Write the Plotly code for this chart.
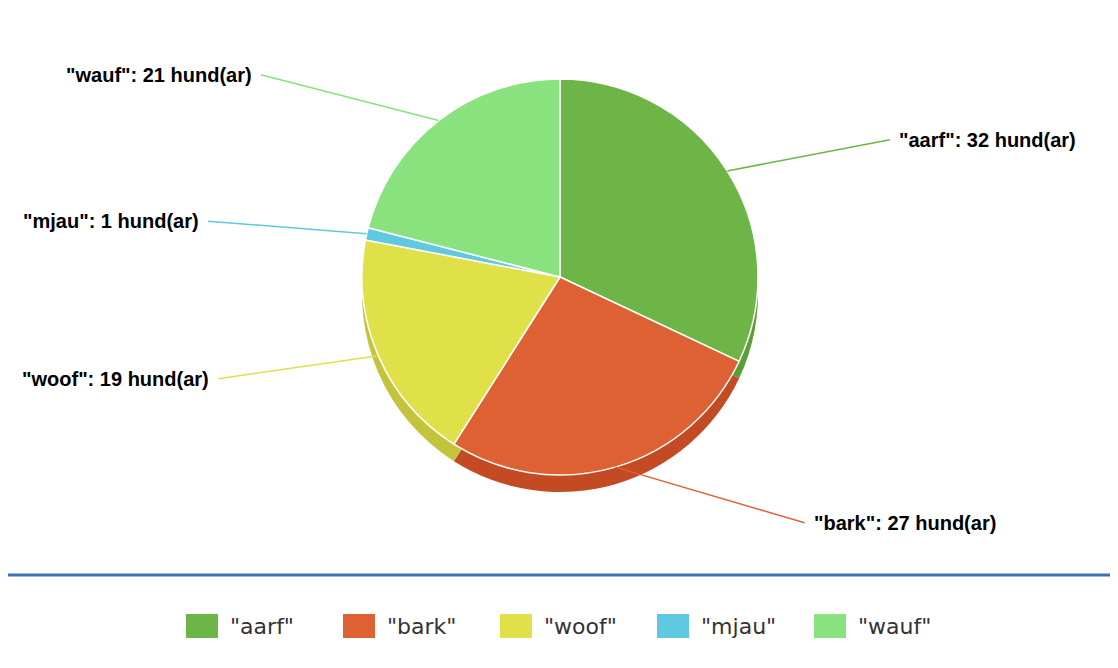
import numpy as np
import plotly.graph_objects as go

labels = ['"aarf"', '"bark"', '"woof"', '"mjau"', '"wauf"']
values = [32, 27, 19, 1, 21]
unit = "hund(ar)"
colors = ["#6cb546", "#de6133", "#e0e049", "#5fc9e0", "#89e27e"]
side_colors = ["#5b9e37", "#c34a22", "#c3c43c", "#4aaac2", "#6fc464"]

# figure sits 8px into the page (body margin), so size it to fit the window
W, H = 1110, 660
cx, cy, r = 552, 269, 198      # pie centre / radius in figure pixels
depth = 17                      # fake 3d depth
lx, ly = 327, 256               # ring where the labels sit

def py(v):
    return 1 - v / H

fig = go.Figure()

# darker copy a bit lower -> side of the 3d pie
fig.add_trace(go.Pie(
    labels=labels, values=values, sort=False, direction="clockwise",
    marker=dict(colors=side_colors, line=dict(color="white", width=0)),
    textinfo="none", hoverinfo="skip", showlegend=False,
    domain=dict(x=[0, 2 * cx / W], y=[py(cy + r + depth), py(cy - r + depth)]),
))

fig.add_trace(go.Pie(
    labels=labels, values=values, sort=False, direction="clockwise",
    marker=dict(colors=colors, line=dict(color="white", width=1.5)),
    textinfo="none", showlegend=False,
    hovertemplate="%{label}: %{value} " + unit + "<extra></extra>",
    domain=dict(x=[0, 2 * cx / W], y=[py(cy + r), py(cy - r)]),
))

# labels with connector lines
total = sum(values)
mids = (np.cumsum(values) - np.array(values) / 2) / total * 2 * np.pi
annotations = []
for lab, val, col, th in zip(labels, values, colors, mids):
    s, c = np.sin(th), np.cos(th)
    ex, ey = cx + r * s, cy - r * c
    push = 30 + 60 * c**2 + 80 * c**4   # labels near top/bottom go further out
    tx = cx + lx * s + (push if s > 0 else -push)
    ty = cy - ly * c
    annotations.append(dict(
        x=ex / W, y=py(ey), xref="paper", yref="paper",
        ax=tx - ex, ay=ty - ey, showarrow=True, arrowhead=0,
        arrowwidth=1.5, arrowcolor=col, standoff=0,
        text="<b>%s: %d %s</b>" % (lab, val, unit),
        xanchor="left" if s > 0 else "right", yanchor="middle",
        borderpad=8,
        font=dict(family="Liberation Sans", size=20, color="black"),
    ))

# legend drawn by hand to get the big square swatches
shapes = [dict(type="line", xref="paper", yref="paper", x0=-0.02, x1=1.02,
               y0=py(567), y1=py(567), line=dict(color="#3672c1", width=3))]
leg_x0, leg_y, step = 178, 618, 157
for i, (lab, col) in enumerate(zip(labels, colors)):
    x = leg_x0 + i * step
    shapes.append(dict(type="rect", xref="paper", yref="paper",
                       x0=x / W, x1=(x + 32) / W, y0=py(leg_y + 12), y1=py(leg_y - 12),
                       fillcolor=col, line=dict(width=0)))
    annotations.append(dict(x=(x + 42) / W, y=py(leg_y), xref="paper", yref="paper",
                            text=lab, showarrow=False, xanchor="left", yanchor="middle",
                            font=dict(family="DejaVu Sans", size=22, color="#333333")))

fig.update_layout(
    width=W, height=H,
    margin=dict(l=0, r=0, t=0, b=0),
    paper_bgcolor="white",
    showlegend=False,
    shapes=shapes,
    annotations=annotations,
)

fig.write_html("out.html")
